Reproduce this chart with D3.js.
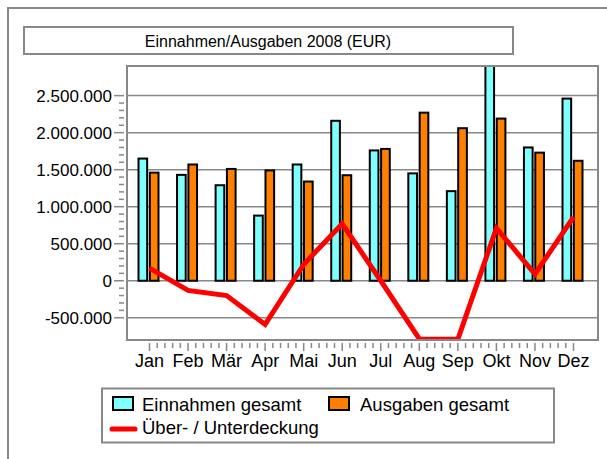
<!DOCTYPE html>
<html lang="de">
<head>
<meta charset="UTF-8">
<title>Einnahmen/Ausgaben 2008</title>
<script src="https://d3js.org/d3.v7.min.js"></script>
<style>
  body { margin: 0; background: #fff; }
  svg { display: block; font-family: "Liberation Sans", Arial, sans-serif; }
  .grid { stroke: #888; stroke-width: 1.5; }
  .tick { stroke: #888; stroke-width: 1.5; }
  .lbl { fill: #000; }
</style>
</head>
<body>
<svg width="607" height="459"></svg>
<script>
// data
const months = ["Jan", "Feb", "Mär", "Apr", "Mai", "Jun", "Jul", "Aug", "Sep", "Okt", "Nov", "Dez"];
const einnahmen = [1650000, 1430000, 1290000, 880000, 1570000, 2160000, 1760000, 1450000, 1210000, 2950000, 1800000, 2460000];
const ausgaben  = [1460000, 1570000, 1510000, 1490000, 1340000, 1425000, 1780000, 2270000, 2060000, 2190000, 1730000, 1620000];
const deckung   = [170000, -130000, -200000, -590000, 220000, 770000, 0, -785000, -790000, 710000, 90000, 860000];
const yTicks = [-500000, 0, 500000, 1000000, 1500000, 2000000, 2500000];
const title = "Einnahmen/Ausgaben 2008 (EUR)";
const seriesNames = ["Einnahmen gesamt", "Ausgaben gesamt", "Über- / Unterdeckung"];

const plot = { left: 127, top: 66, right: 598, bottom: 340 };

const svg = d3.select("svg");

// outer frame + title box
svg.append("rect").attr("x", 8).attr("y", 8).attr("width", 640).attr("height", 480)
  .attr("fill", "#fff").attr("stroke", "#888").attr("stroke-width", 2);
svg.append("rect").attr("x", 24).attr("y", 27).attr("width", 489).attr("height", 27)
  .attr("fill", "#fff").attr("stroke", "#888").attr("stroke-width", 2);
svg.append("text").attr("class", "lbl").attr("x", 268).attr("y", 46.5)
  .attr("font-size", 16).attr("text-anchor", "middle").text(title);

const x = d3.scalePoint().domain(months).range([149.5, 573.5]);
const inner = d3.scaleBand().domain(["ein", "aus"]).range([-11, 11]).paddingInner(0.06);
const y = d3.scaleLinear().domain([-800000, 2900000]).range([plot.bottom, plot.top]);

svg.append("clipPath").attr("id", "clip").append("rect")
  .attr("x", plot.left).attr("y", plot.top)
  .attr("width", plot.right - plot.left).attr("height", plot.bottom - plot.top);

// grid lines
svg.selectAll(".grid").data(yTicks).enter().append("line")
  .attr("class", "grid")
  .attr("x1", plot.left).attr("x2", plot.right)
  .attr("y1", d => y(d)).attr("y2", d => y(d));

// y ticks (major + 4 minor)
const yMinor = d3.range(-500000, 2500001, 100000).filter(v => v % 500000 !== 0);
svg.selectAll(".ymin").data(yMinor).enter().append("line")
  .attr("class", "tick").attr("x1", 119).attr("x2", 124)
  .attr("y1", d => y(d)).attr("y2", d => y(d));
svg.selectAll(".ymaj").data(yTicks).enter().append("line")
  .attr("class", "tick").attr("x1", 114).attr("x2", 124)
  .attr("y1", d => y(d)).attr("y2", d => y(d));
const fmt = d3.formatLocale({ decimal: ",", thousands: ".", grouping: [3], currency: ["", " €"], minus: "-" }).format(",d");
svg.selectAll(".ylbl").data(yTicks).enter().append("text")
  .attr("class", "lbl").attr("font-size", 17).attr("x", 112).attr("y", d => y(d)).attr("dy", "0.36em")
  .attr("text-anchor", "end").text(d => fmt(d));

// x ticks
const xMinor = [];
for (let i = 0; i < months.length - 1; i++) {
  const a = x(months[i]), b = x(months[i + 1]);
  for (let k = 1; k < 5; k++) xMinor.push(a + (b - a) * k / 5);
}
svg.selectAll(".xmin").data(xMinor).enter().append("line")
  .attr("class", "tick").attr("x1", d => d).attr("x2", d => d).attr("y1", 343).attr("y2", 348);
svg.selectAll(".xmaj").data(months).enter().append("line")
  .attr("class", "tick").attr("x1", d => x(d)).attr("x2", d => x(d)).attr("y1", 343).attr("y2", 351);
svg.selectAll(".xlbl").data(months).enter().append("text")
  .attr("class", "lbl").attr("font-size", 18).attr("x", d => x(d)).attr("y", 366.5)
  .attr("text-anchor", "middle").text(d => d);

// bars
const g = svg.append("g").attr("clip-path", "url(#clip)");
const rows = months.map((m, i) => ({ m, ein: einnahmen[i], aus: ausgaben[i] }));
const colors = { ein: "#80ffff", aus: "#ff8000" };
["ein", "aus"].forEach(key => {
  g.selectAll(".bar-" + key).data(rows).enter().append("rect")
    .attr("x", d => x(d.m) + inner(key))
    .attr("width", inner.bandwidth() - 2)
    .attr("y", d => y(Math.max(0, d[key])))
    .attr("height", d => Math.abs(y(d[key]) - y(0)))
    .attr("fill", colors[key]).attr("stroke", "#000").attr("stroke-width", 2);
});

// line
const line = d3.line().x((d, i) => x(months[i])).y(d => y(d));
g.append("path").datum(deckung).attr("d", line)
  .attr("fill", "none").attr("stroke", "#ff0000").attr("stroke-width", 5)
  .attr("stroke-linejoin", "miter");

// plot border
svg.append("rect").attr("x", plot.left).attr("y", plot.top)
  .attr("width", plot.right - plot.left).attr("height", plot.bottom - plot.top)
  .attr("fill", "none").attr("stroke", "#888").attr("stroke-width", 2);

// legend
const lg = svg.append("g");
lg.append("rect").attr("x", 102).attr("y", 388.5).attr("width", 452).attr("height", 54)
  .attr("fill", "#fff").attr("stroke", "#888").attr("stroke-width", 2);
lg.append("rect").attr("x", 113).attr("y", 397).attr("width", 20).attr("height", 13)
  .attr("fill", colors.ein).attr("stroke", "#000").attr("stroke-width", 2);
lg.append("text").attr("class", "lbl").attr("font-size", 18.5).attr("x", 142).attr("y", 410.5).text(seriesNames[0]);
lg.append("rect").attr("x", 329).attr("y", 397).attr("width", 20).attr("height", 13)
  .attr("fill", colors.aus).attr("stroke", "#000").attr("stroke-width", 2);
lg.append("text").attr("class", "lbl").attr("font-size", 18.5).attr("x", 360).attr("y", 410.5).text(seriesNames[1]);
lg.append("line").attr("x1", 112).attr("x2", 135).attr("y1", 429).attr("y2", 429)
  .attr("stroke", "#ff0000").attr("stroke-width", 5).attr("stroke-linecap", "round");
lg.append("text").attr("class", "lbl").attr("font-size", 18.5).attr("x", 142).attr("y", 434).text(seriesNames[2]);
</script>
</body>
</html>
